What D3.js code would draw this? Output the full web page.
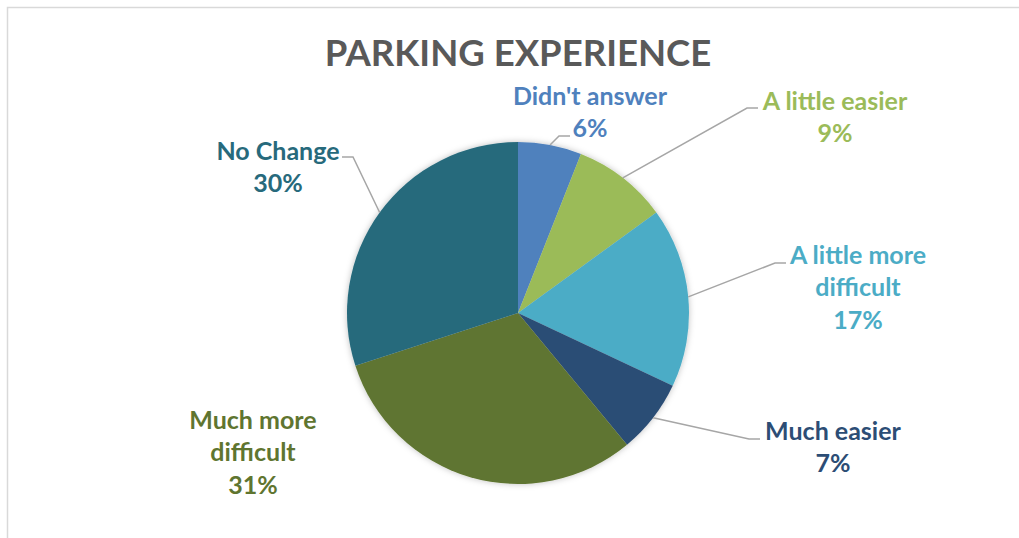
<!DOCTYPE html>
<html>
<head>
<meta charset="utf-8">
<script src="https://cdn.jsdelivr.net/npm/d3@7"></script>
<style>
  body { margin: 0; background: #fff; }
  text { font-family: Lato, "Open Sans", sans-serif; font-weight: bold; }
</style>
</head>
<body>
<div id="chart"></div>
<script>
// data, clockwise from 12 o'clock
const categories = ["Didn't answer", "A little easier", "A little more difficult", "Much easier", "Much more difficult", "No Change"];
const values = [6, 9, 17, 7, 31, 30];
const colors = ["#4F81BD", "#9BBB59", "#4BACC6", "#2C4D75", "#5F7530", "#276A7C"];
const labelLines = [["Didn't answer"], ["A little easier"], ["A little more", "difficult"], ["Much easier"], ["Much more", "difficult"], ["No Change"]];

// label layout (text centre x, first line centre y, leader end point)
const labelLayout = [
  {x: 590, y: 96, end: [570, 136], dir: 1},
  {x: 835, y: 101, end: [758, 108], dir: 1},
  {x: 858, y: 255, end: [786, 263], dir: 1},
  {x: 833, y: 431, end: [760, 439], dir: 1},
  {x: 253, y: 420, end: null},
  {x: 278, y: 151, end: [342, 157], dir: -1}
];

const width = 1019, height = 538;
const cx = 518, cy = 313, radius = 171;
const lineH = 32.5;

const svg = d3.select("#chart")
    .append("svg")
    .attr("width", width)
    .attr("height", height);

// chart border
svg.append("rect")
    .attr("x", 7.5)
    .attr("y", 7.5)
    .attr("width", width + 20)
    .attr("height", height + 20)
    .attr("fill", "#fff")
    .attr("stroke", "#D9D9D9")
    .attr("stroke-width", 1.5);

const defs = svg.append("defs");
const shadow = defs.append("filter").attr("id", "shadow")
    .attr("x", "-10%").attr("y", "-10%").attr("width", "120%").attr("height", "120%");
shadow.append("feDropShadow")
    .attr("dx", 0).attr("dy", 0).attr("stdDeviation", 3)
    .attr("flood-color", "#000").attr("flood-opacity", 0.25);

svg.append("text")
    .attr("x", cx)
    .attr("y", 53)
    .attr("dy", "0.35em")
    .attr("text-anchor", "middle")
    .attr("fill", "#595959")
    .style("font-size", "36.5px")
    .text("PARKING EXPERIENCE");

const data = categories.map((c, i) => ({name: c, value: values[i], i: i}));

const pie = d3.pie()
    .sort(null)
    .value(d => d.value);

const arc = d3.arc()
    .innerRadius(0)
    .outerRadius(radius);

const arcs = pie(data);

const g = svg.append("g")
    .attr("transform", `translate(${cx},${cy})`);

g.append("g")
    .attr("filter", "url(#shadow)")
    .selectAll("path")
    .data(arcs)
    .enter().append("path")
    .attr("d", arc)
    .attr("fill", d => colors[d.data.i]);

// leader lines
arcs.forEach(a => {
    const lay = labelLayout[a.data.i];
    if (!lay.end) return;
    const mid = (a.startAngle + a.endAngle) / 2;
    const sx = cx + radius * Math.sin(mid);
    const sy = cy - radius * Math.cos(mid);
    const ex = lay.end[0], ey = lay.end[1];
    const elbow = [ex - lay.dir * 11, ey];
    svg.append("polyline")
        .attr("points", [[sx, sy], elbow, [ex, ey]].map(p => p.join(",")).join(" "))
        .attr("fill", "none")
        .attr("stroke", "#A6A6A6")
        .attr("stroke-width", 1.5);
});

// data labels
arcs.forEach(a => {
    const i = a.data.i;
    const lay = labelLayout[i];
    const lines = labelLines[i].concat([a.data.value + "%"]);
    const t = svg.append("text")
        .attr("text-anchor", "middle")
        .attr("fill", colors[i])
        .style("font-size", "25px");
    lines.forEach((l, k) => {
        t.append("tspan")
            .attr("x", lay.x)
            .attr("y", lay.y + k * lineH)
            .attr("dy", "0.35em")
            .text(l);
    });
});
</script>
</body>
</html>
